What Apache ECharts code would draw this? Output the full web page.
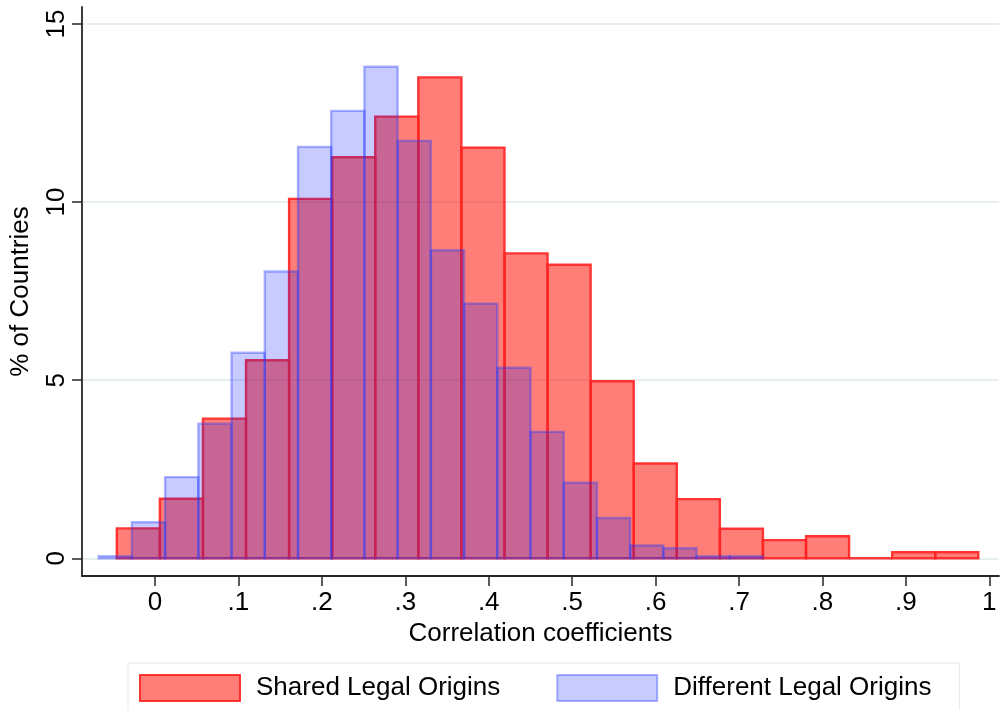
<!DOCTYPE html>
<html>
<head>
<meta charset="utf-8">
<title>Correlation coefficients by legal origin</title>
<script src="https://cdn.jsdelivr.net/npm/echarts@6/dist/echarts.min.js"></script>
<style>
  html, body { margin: 0; padding: 0; background: #fff; }
  #chart { width: 1000px; height: 710px; }
</style>
</head>
<body>
<div id="chart"></div>
<script>
// Histogram bins: first bin's lower edge, bin width, and percent of countries per bin
const sharedLow = -0.0458;
const sharedWidth = 0.05163;
const sharedPct = [0.84, 1.67, 3.92, 5.56, 10.09, 11.26, 12.40, 13.50, 11.53, 8.56,
                   8.24, 4.97, 2.66, 1.66, 0.83, 0.51, 0.62, 0, 0.17, 0.17];

const differentLow = -0.0675;
const differentWidth = 0.03981;
const differentPct = [0.06, 1.01, 2.28, 3.78, 5.77, 8.05, 11.55, 12.56, 13.80, 11.72,
                      8.65, 7.15, 5.35, 3.55, 2.12, 1.13, 0.36, 0.28, 0.06, 0.06];

const xTicks = [0, 0.1, 0.2, 0.3, 0.4, 0.5, 0.6, 0.7, 0.8, 0.9, 1];
const yTicks = [0, 5, 10, 15];

const seriesNames = ['Shared Legal Origins', 'Different Legal Origins'];

function toBins(low, width, pct) {
  return pct.map((p, i) => [low + i * width, low + (i + 1) * width, p]);
}

const styles = {
  shared: { fill: 'rgba(255,20,10,0.55)', stroke: 'rgba(255,35,35,0.9)' },
  different: { fill: 'rgba(0,18,255,0.22)', stroke: 'rgba(40,60,255,0.38)' }
};

function binRenderer(style) {
  return function (params, api) {
    const a = api.coord([api.value(0), 0]);
    const b = api.coord([api.value(1), api.value(2)]);
    return {
      type: 'rect',
      shape: { x: a[0], y: b[1], width: b[0] - a[0], height: a[1] - b[1] },
      style: { fill: style.fill, stroke: style.stroke, lineWidth: 2.4 }
    };
  };
}

function tickText(v) {
  if (v === 0) return '0';
  if (v === 1) return '1';
  return String(Math.round(v * 10) / 10).replace(/^0/, '');
}

const font = 'Liberation Sans';
const axisColor = '#262626';

const chart = echarts.init(document.getElementById('chart'), null, { renderer: 'canvas' });
chart.setOption({
  animation: false,
  backgroundColor: '#ffffff',
  textStyle: { fontFamily: font },
  grid: { left: 82, top: 7, width: 917, height: 569, containLabel: false, outerBoundsMode: 'none' },
  xAxis: {
    type: 'value',
    min: -0.0875,
    max: 1.0116,
    name: 'Correlation coefficients',
    nameLocation: 'middle',
    nameGap: 45,
    nameTextStyle: { fontSize: 26, color: '#000', fontFamily: font },
    axisLine: { show: true, onZero: false, lineStyle: { color: axisColor, width: 1.8 } },
    axisTick: { show: true, length: 10, customValues: xTicks, lineStyle: { color: axisColor, width: 1.5 } },
    axisLabel: { customValues: xTicks, formatter: tickText, fontSize: 26, color: '#000', margin: 14, fontFamily: font },
    splitLine: { show: false }
  },
  yAxis: {
    type: 'value',
    min: -0.497,
    max: 15.477,
    name: '% of Countries',
    nameLocation: 'middle',
    nameRotate: 90,
    nameGap: 48,
    nameTextStyle: { fontSize: 26, color: '#000', fontFamily: font },
    axisLine: { show: true, onZero: false, lineStyle: { color: axisColor, width: 1.8 } },
    axisTick: { show: true, length: 10, customValues: yTicks, lineStyle: { color: axisColor, width: 1.5 } },
    axisLabel: { customValues: yTicks, rotate: 90, fontSize: 26, color: '#000', margin: 12, fontFamily: font },
    splitLine: { show: true, lineStyle: { color: '#E6EEEE', width: 1.8 } }
  },
  legend: {
    left: 128,
    top: 663,
    orient: 'horizontal',
    padding: [11, 28, 30, 11],
    itemWidth: 100,
    itemHeight: 26,
    itemGap: 56,
    borderColor: '#E2EBEB',
    borderWidth: 1,
    textStyle: { fontSize: 26, color: '#000', fontFamily: font, padding: [0, 0, 0, 11] },
    data: [
      { name: seriesNames[0], icon: 'rect', itemStyle: { color: styles.shared.fill, borderColor: styles.shared.stroke, borderWidth: 2 } },
      { name: seriesNames[1], icon: 'rect', itemStyle: { color: styles.different.fill, borderColor: styles.different.stroke, borderWidth: 2 } }
    ]
  },
  series: [
    {
      name: seriesNames[0],
      type: 'custom',
      renderItem: binRenderer(styles.shared),
      itemStyle: { color: styles.shared.fill },
      encode: { x: [0, 1], y: 2 },
      data: toBins(sharedLow, sharedWidth, sharedPct),
      z: 2
    },
    {
      name: seriesNames[1],
      type: 'custom',
      renderItem: binRenderer(styles.different),
      itemStyle: { color: styles.different.fill },
      encode: { x: [0, 1], y: 2 },
      data: toBins(differentLow, differentWidth, differentPct),
      z: 3
    }
  ]
});
</script>
</body>
</html>
